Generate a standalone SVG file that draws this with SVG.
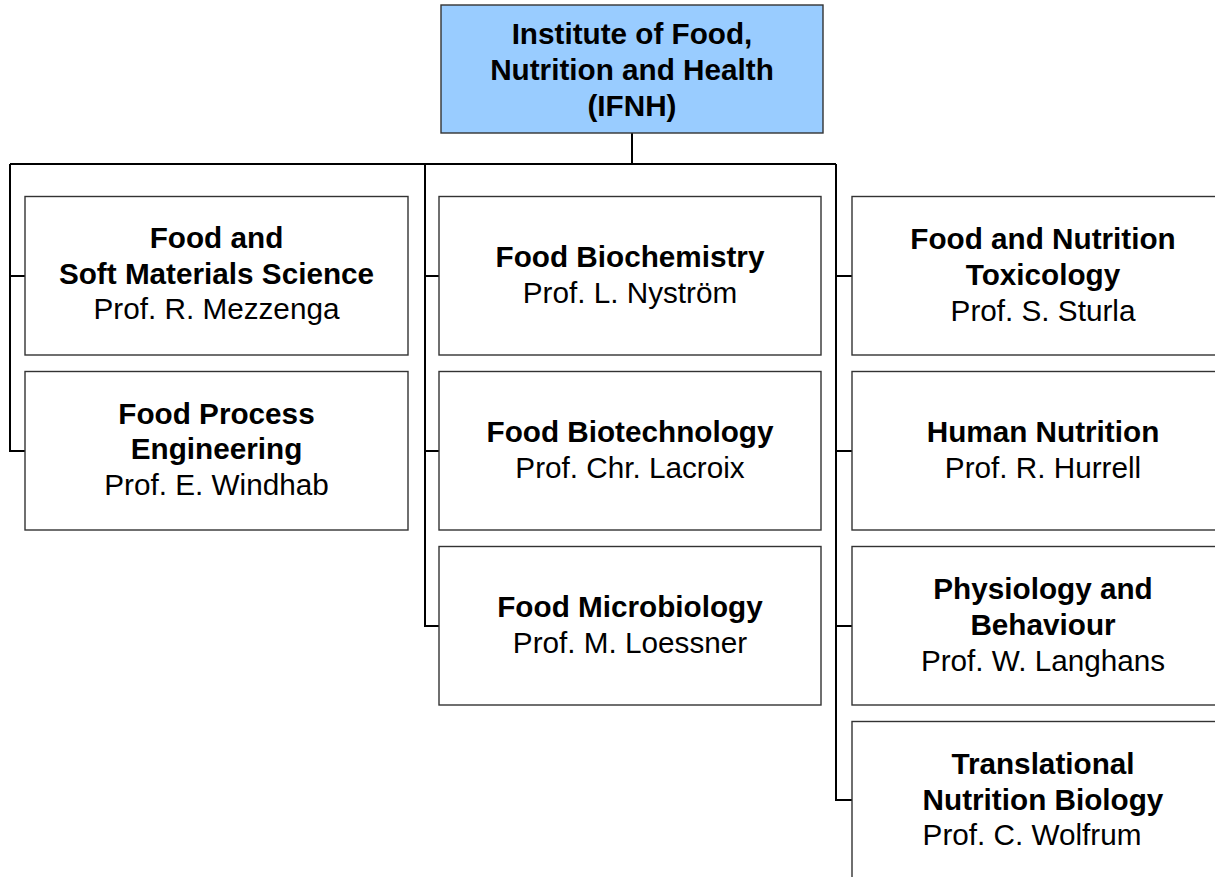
<svg xmlns="http://www.w3.org/2000/svg" width="1215" height="877" viewBox="0 0 1215 877">
<style>
.box{fill:#ffffff;stroke:#333333;stroke-width:1.4}
.top{fill:#99ccff;stroke:#333333;stroke-width:1.4}
.c{fill:none;stroke:#000000;stroke-width:2}
text{font-family:"Liberation Sans",Arial,sans-serif;font-size:29.7px;fill:#000000;text-anchor:middle}
.b{font-weight:bold}
</style>
<rect width="1215" height="877" fill="#ffffff"/>
<g id="connectors">
<path class="c" d="M632,133 V164 M10,164 H836 M10,164 V451 H25 M10,276 H25 M425,164 V626 H439 M425,276 H439 M425,451 H439 M836,164 V800 H852 M836,276 H852 M836,451 H852 M836,626 H852"/>
</g>
<g id="ifnh">
<rect class="top" x="441" y="5" width="382" height="128"/>
<text class="b" x="632" y="44">Institute of Food,</text>
<text class="b" x="632" y="80">Nutrition and Health</text>
<text class="b" x="632" y="116">(IFNH)</text>
</g>
<g id="soft-materials">
<rect class="box" x="25" y="196.5" width="383" height="158.5"/>
<text class="b" x="216.5" y="248">Food and</text>
<text class="b" x="216.5" y="284">Soft Materials Science</text>
<text x="216.5" y="319">Prof. R. Mezzenga</text>
</g>
<g id="process-engineering">
<rect class="box" x="25" y="371.5" width="383" height="158.5"/>
<text class="b" x="216.5" y="424">Food Process</text>
<text class="b" x="216.5" y="459">Engineering</text>
<text x="216.5" y="495">Prof. E. Windhab</text>
</g>
<g id="biochemistry">
<rect class="box" x="439" y="196.5" width="382" height="158.5"/>
<text class="b" x="630" y="267">Food Biochemistry</text>
<text x="630" y="303">Prof. L. Nyström</text>
</g>
<g id="biotechnology">
<rect class="box" x="439" y="371.5" width="382" height="158.5"/>
<text class="b" x="630" y="442">Food Biotechnology</text>
<text x="630" y="478">Prof. Chr. Lacroix</text>
</g>
<g id="microbiology">
<rect class="box" x="439" y="546.5" width="382" height="158.5"/>
<text class="b" x="630" y="617">Food Microbiology</text>
<text x="630" y="653">Prof. M. Loessner</text>
</g>
<g id="toxicology">
<rect class="box" x="852" y="196.5" width="382" height="158.5"/>
<text class="b" x="1043" y="249">Food and Nutrition</text>
<text class="b" x="1043" y="285">Toxicology</text>
<text x="1043" y="321">Prof. S. Sturla</text>
</g>
<g id="human-nutrition">
<rect class="box" x="852" y="371.5" width="382" height="158.5"/>
<text class="b" x="1043" y="442">Human Nutrition</text>
<text x="1043" y="478">Prof. R. Hurrell</text>
</g>
<g id="physiology">
<rect class="box" x="852" y="546.5" width="382" height="158.5"/>
<text class="b" x="1043" y="599">Physiology and</text>
<text class="b" x="1043" y="635">Behaviour</text>
<text x="1043" y="671">Prof. W. Langhans</text>
</g>
<g id="translational">
<rect class="box" x="852" y="721.5" width="382" height="170"/>
<text class="b" x="1043" y="774">Translational</text>
<text class="b" x="1043" y="810">Nutrition Biology</text>
<text x="1032" y="845">Prof. C. Wolfrum</text>
</g>
</svg>
